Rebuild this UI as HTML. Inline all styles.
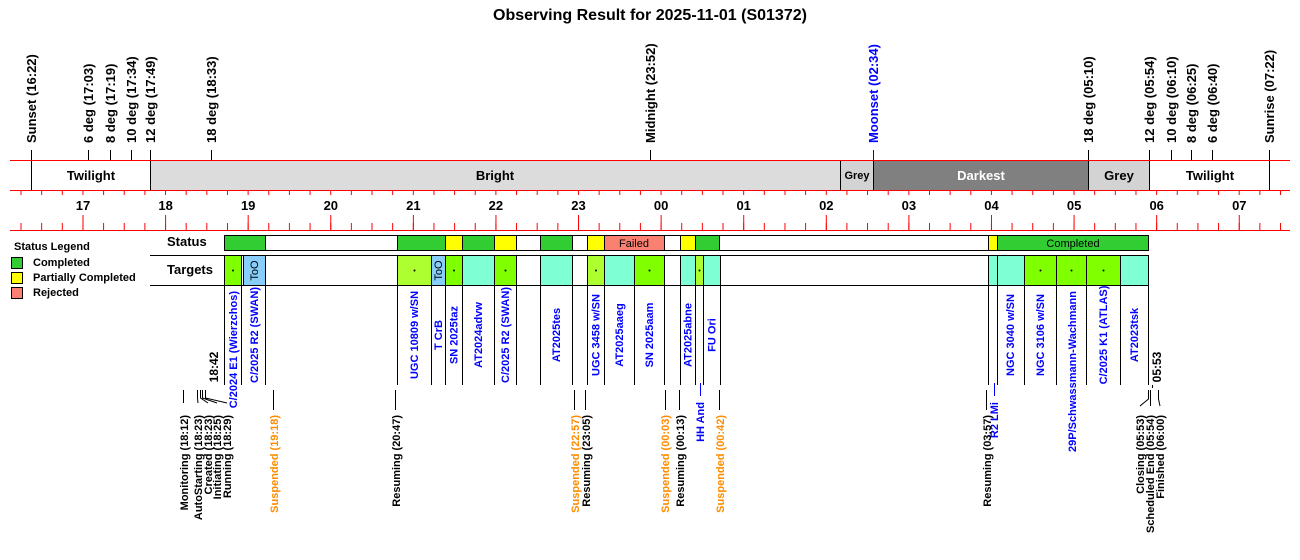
<!DOCTYPE html>
<html><head><meta charset="utf-8"><style>
html,body{margin:0;padding:0;background:#fff;}
svg{display:block;font-family:"Liberation Sans",Arial,sans-serif;font-weight:bold;}
</style></head><body>
<svg width="1300" height="560" viewBox="0 0 1300 560" xmlns="http://www.w3.org/2000/svg">
<defs>
<pattern id="pm" patternUnits="userSpaceOnUse" x="20.5" y="0" width="20.6475" height="600"><rect x="0" y="0" width="1" height="600" fill="#f00"/></pattern>
<pattern id="pM" patternUnits="userSpaceOnUse" x="82.5" y="0" width="82.59" height="600"><rect x="0" y="0" width="1" height="600" fill="#f00"/></pattern>
</defs>
<text x="650" y="20" font-size="16" text-anchor="middle">Observing Result for 2025-11-01 (S01372)</text>

<g font-size="13" stroke="none">
<g fill="#000">
<text transform="translate(36,143) rotate(-90)">Sunset (16:22)</text>
<text transform="translate(93,143) rotate(-90)">6 deg (17:03)</text>
<text transform="translate(115,143) rotate(-90)">8 deg (17:19)</text>
<text transform="translate(136,143) rotate(-90)">10 deg (17:34)</text>
<text transform="translate(155,143) rotate(-90)">12 deg (17:49)</text>
<text transform="translate(216,143) rotate(-90)">18 deg (18:33)</text>
<text transform="translate(655,143) rotate(-90)">Midnight (23:52)</text>
<text transform="translate(1093,143) rotate(-90)">18 deg (05:10)</text>
<text transform="translate(1154,143) rotate(-90)">12 deg (05:54)</text>
<text transform="translate(1176,143) rotate(-90)">10 deg (06:10)</text>
<text transform="translate(1196,143) rotate(-90)">8 deg (06:25)</text>
<text transform="translate(1217,143) rotate(-90)">6 deg (06:40)</text>
<text transform="translate(1274,143) rotate(-90)">Sunrise (07:22)</text>
</g>
<text transform="translate(878,143) rotate(-90)" fill="#0000ff">Moonset (02:34)</text>
</g>
<g stroke="#000" stroke-width="1">
<line x1="31.5" y1="150" x2="31.5" y2="160"/><line x1="88.5" y1="150" x2="88.5" y2="160"/>
<line x1="110.5" y1="150" x2="110.5" y2="160"/><line x1="131.5" y1="150" x2="131.5" y2="160"/>
<line x1="150.5" y1="150" x2="150.5" y2="160"/><line x1="211.5" y1="150" x2="211.5" y2="160"/>
<line x1="650.5" y1="150" x2="650.5" y2="160"/><line x1="1088.5" y1="150" x2="1088.5" y2="160"/>
<line x1="1149.5" y1="150" x2="1149.5" y2="160"/><line x1="1171.5" y1="150" x2="1171.5" y2="160"/>
<line x1="1191.5" y1="150" x2="1191.5" y2="160"/><line x1="1212.5" y1="150" x2="1212.5" y2="160"/>
<line x1="1269.5" y1="150" x2="1269.5" y2="160"/>
</g>
<line x1="873.5" y1="150" x2="873.5" y2="160" stroke="#0000ff"/>

<rect x="150.5" y="160.5" width="690" height="30" fill="#dcdcdc"/>
<rect x="840.5" y="160.5" width="33" height="30" fill="#d3d3d3"/>
<rect x="873.5" y="160.5" width="215" height="30" fill="#808080"/>
<rect x="1088.5" y="160.5" width="61" height="30" fill="#d3d3d3"/>
<g stroke="#000"><line x1="31.5" y1="160" x2="31.5" y2="190"/><line x1="150.5" y1="160" x2="150.5" y2="190"/>
<line x1="840.5" y1="160" x2="840.5" y2="190"/><line x1="873.5" y1="160" x2="873.5" y2="190"/>
<line x1="1088.5" y1="160" x2="1088.5" y2="190"/><line x1="1149.5" y1="160" x2="1149.5" y2="190"/>
<line x1="1269.5" y1="160" x2="1269.5" y2="190"/></g>
<g font-size="13" text-anchor="middle">
<text x="91" y="180">Twilight</text>
<text x="495" y="180">Bright</text>
<text x="857" y="179" font-size="11">Grey</text>
<text x="981" y="180" fill="#fff">Darkest</text>
<text x="1119" y="180">Grey</text>
<text x="1210" y="180">Twilight</text>
</g>
<line x1="10" y1="160.5" x2="1290" y2="160.5" stroke="#f00"/>
<line x1="10" y1="190.5" x2="1290" y2="190.5" stroke="#f00"/>
<line x1="10" y1="230.5" x2="1290" y2="230.5" stroke="#f00"/>
<rect x="20" y="190" width="1263" height="5" fill="url(#pm)"/>
<rect x="20" y="223" width="1263" height="8" fill="url(#pm)"/>
<rect x="80" y="215" width="1165" height="16" fill="url(#pM)"/>
<g font-size="13" text-anchor="middle">
<text x="83" y="210">17</text><text x="165.6" y="210">18</text><text x="248.2" y="210">19</text>
<text x="330.8" y="210">20</text><text x="413.4" y="210">21</text><text x="495.9" y="210">22</text>
<text x="578.5" y="210">23</text><text x="661.1" y="210">00</text><text x="743.7" y="210">01</text>
<text x="826.3" y="210">02</text><text x="908.9" y="210">03</text><text x="991.5" y="210">04</text>
<text x="1074.1" y="210">05</text><text x="1156.7" y="210">06</text><text x="1239.3" y="210">07</text>
</g>

<text x="14" y="250" font-size="11">Status Legend</text>
<rect x="11.5" y="257.5" width="11" height="11" fill="#32cd32" stroke="#000"/>
<rect x="11.5" y="272.5" width="11" height="11" fill="#ffff00" stroke="#000"/>
<rect x="11.5" y="287.5" width="11" height="11" fill="#fa8072" stroke="#000"/>
<g font-size="11"><text x="33" y="266">Completed</text><text x="33" y="281">Partially Completed</text><text x="33" y="296">Rejected</text></g>

<text x="167" y="246" font-size="13">Status</text>
<text x="167" y="274" font-size="13">Targets</text>
<line x1="150" y1="255.5" x2="1148" y2="255.5" stroke="#000"/>
<line x1="150" y1="285.5" x2="1148" y2="285.5" stroke="#000"/>

<g stroke="#000" stroke-width="1">
<rect x="224.5" y="235.5" width="924" height="15" fill="#fff"/>
<rect x="224.5" y="235.5" width="41" height="15" fill="#32cd32"/>
<rect x="397.5" y="235.5" width="48" height="15" fill="#32cd32"/>
<rect x="445.5" y="235.5" width="17" height="15" fill="#ffff00"/>
<rect x="462.5" y="235.5" width="32" height="15" fill="#32cd32"/>
<rect x="494.5" y="235.5" width="22" height="15" fill="#ffff00"/>
<rect x="540.5" y="235.5" width="32" height="15" fill="#32cd32"/>
<rect x="587.5" y="235.5" width="17" height="15" fill="#ffff00"/>
<rect x="604.5" y="235.5" width="60" height="15" fill="#fa8072"/>
<rect x="680.5" y="235.5" width="15" height="15" fill="#ffff00"/>
<rect x="695.5" y="235.5" width="24" height="15" fill="#32cd32"/>
<rect x="988.5" y="235.5" width="9" height="15" fill="#ffff00"/>
<rect x="997.5" y="235.5" width="151" height="15" fill="#32cd32"/>
</g>
<text x="634" y="247" font-size="11" font-weight="normal" text-anchor="middle">Failed</text>
<text x="1073" y="247" font-size="11" font-weight="normal" text-anchor="middle">Completed</text>

<g stroke="#000" stroke-width="1">
<rect x="224.5" y="255.5" width="17" height="30" fill="#7fff00"/>
<rect x="243.5" y="255.5" width="22" height="30" fill="#87cefa"/>
<rect x="397.5" y="255.5" width="34" height="30" fill="#adff2f"/>
<rect x="431.5" y="255.5" width="14" height="30" fill="#87cefa"/>
<rect x="445.5" y="255.5" width="17" height="30" fill="#7fff00"/>
<rect x="462.5" y="255.5" width="32" height="30" fill="#7fffd4"/>
<rect x="494.5" y="255.5" width="22" height="30" fill="#7fff00"/>
<rect x="540.5" y="255.5" width="32" height="30" fill="#7fffd4"/>
<rect x="587.5" y="255.5" width="17" height="30" fill="#adff2f"/>
<rect x="604.5" y="255.5" width="30" height="30" fill="#7fffd4"/>
<rect x="634.5" y="255.5" width="30" height="30" fill="#7fff00"/>
<rect x="680.5" y="255.5" width="15" height="30" fill="#7fffd4"/>
<rect x="695.5" y="255.5" width="8" height="30" fill="#adff2f"/>
<rect x="703.5" y="255.5" width="17" height="30" fill="#7fffd4"/>
<rect x="988.5" y="255.5" width="9" height="30" fill="#7fffd4"/>
<rect x="997.5" y="255.5" width="27" height="30" fill="#7fffd4"/>
<rect x="1024.5" y="255.5" width="32" height="30" fill="#7fff00"/>
<rect x="1056.5" y="255.5" width="30" height="30" fill="#7fff00"/>
<rect x="1086.5" y="255.5" width="34" height="30" fill="#7fff00"/>
<rect x="1120.5" y="255.5" width="28" height="30" fill="#7fffd4"/>
</g>
<g fill="#000">
<circle cx="233" cy="270.5" r="1"/><circle cx="414.5" cy="270.5" r="1"/><circle cx="454" cy="270.5" r="1"/>
<circle cx="505.5" cy="270.5" r="1"/><circle cx="596" cy="270.5" r="1"/><circle cx="649.5" cy="270.5" r="1"/>
<circle cx="699.5" cy="270.5" r="1"/><circle cx="1040.5" cy="270.5" r="1"/><circle cx="1071.5" cy="270.5" r="1"/>
<circle cx="1103.5" cy="270.5" r="1"/>
</g>
<g font-size="11" font-weight="normal" text-anchor="middle">
<text transform="translate(258,270.5) rotate(-90)">ToO</text>
<text transform="translate(442,270.5) rotate(-90)">ToO</text>
</g>

<g stroke="#000">
<path d="M224.5 285V385M241.5 285V385M265.5 285V385M397.5 285V385M431.5 285V385M445.5 285V385M462.5 285V385M494.5 285V385M516.5 285V385M540.5 285V385M572.5 285V385M587.5 285V385M604.5 285V385M634.5 285V385M664.5 285V385M680.5 285V385M695.5 285V385M703.5 285V385M720.5 285V385M988.5 285V385M997.5 285V385M1024.5 285V385M1056.5 285V385M1086.5 285V385M1120.5 285V385M1148.5 285V385"/>
</g>

<g font-size="11" fill="#0000ff">
<g text-anchor="end">
<text transform="translate(237,291) rotate(-90)">C/2024 E1 (Wierzchos)</text>
<text transform="translate(1076,291) rotate(-90)">29P/Schwassmann-Wachmann</text>
</g>
<g text-anchor="middle">
<text transform="translate(258,335) rotate(-90)">C/2025 R2 (SWAN)</text>
<text transform="translate(418,335) rotate(-90)">UGC 10809 w/SN</text>
<text transform="translate(442,335) rotate(-90)">T CrB</text>
<text transform="translate(457.5,335) rotate(-90)">SN 2025taz</text>
<text transform="translate(482,335) rotate(-90)">AT2024advw</text>
<text transform="translate(509,335) rotate(-90)">C/2025 R2 (SWAN)</text>
<text transform="translate(560,335) rotate(-90)">AT2025tes</text>
<text transform="translate(599.5,335) rotate(-90)">UGC 3458 w/SN</text>
<text transform="translate(623,335) rotate(-90)">AT2025aaeg</text>
<text transform="translate(653,335) rotate(-90)">SN 2025aam</text>
<text transform="translate(691.5,335) rotate(-90)">AT2025abne</text>
<text transform="translate(715.5,335) rotate(-90)">FU Ori</text>
<text transform="translate(1014,335) rotate(-90)">NGC 3040 w/SN</text>
<text transform="translate(1044,335) rotate(-90)">NGC 3106 w/SN</text>
<text transform="translate(1107,335) rotate(-90)">C/2025 K1 (ATLAS)</text>
<text transform="translate(1138,335) rotate(-90)">AT2023tsk</text>
</g>
<g text-anchor="end">
<text transform="translate(704,402) rotate(-90)">HH And</text>
<text transform="translate(998,402) rotate(-90)">R2 LMi</text>
</g>
</g>
<g stroke="#0000ff"><line x1="700.5" y1="383" x2="700.5" y2="396"/><line x1="994.5" y1="383" x2="994.5" y2="396"/></g>

<g font-size="12" text-anchor="middle">
<text transform="translate(218,367) rotate(-90)">18:42</text>
<text transform="translate(1161,367) rotate(-90)">05:53</text>
</g>
<line x1="1152.5" y1="385" x2="1152.5" y2="388" stroke="#000"/>

<g stroke="#000" fill="none">
<path d="M183.5 390V403"/>
<path d="M197.5 390V398L198 403M200.5 390V398L208 403M202.5 390V398L217 403M205.5 390V398L227 403"/>
<path d="M273.5 390V410M395.5 390V410M574.5 390V410M585.5 390V410M665.5 390V410M679.5 390V410M719.5 390V410M986.5 390V410"/>
<path d="M1148.5 390V399L1140 406M1150.5 390V406M1158.5 390V399L1160 406"/>
</g>
<g font-size="11" text-anchor="end">
<g fill="#000">
<text transform="translate(188,415) rotate(-90)">Monitoring (18:12)</text>
<text transform="translate(202,415) rotate(-90)">AutoStarting (18:23)</text>
<text transform="translate(212,415) rotate(-90)">Created (18:23)</text>
<text transform="translate(221,415) rotate(-90)">Initiating (18:25)</text>
<text transform="translate(231,415) rotate(-90)">Running (18:29)</text>
<text transform="translate(400,415) rotate(-90)">Resuming (20:47)</text>
<text transform="translate(590,415) rotate(-90)">Resuming (23:05)</text>
<text transform="translate(684,415) rotate(-90)">Resuming (00:13)</text>
<text transform="translate(991,415) rotate(-90)">Resuming (03:57)</text>
<text transform="translate(1144,415) rotate(-90)">Closing (05:53)</text>
<text transform="translate(1154,415) rotate(-90)">Scheduled End (05:54)</text>
<text transform="translate(1164,415) rotate(-90)">Finished (06:00)</text>
</g>
<g fill="#ff8c00">
<text transform="translate(278,415) rotate(-90)">Suspended (19:18)</text>
<text transform="translate(579,415) rotate(-90)">Suspended (22:57)</text>
<text transform="translate(669,415) rotate(-90)">Suspended (00:03)</text>
<text transform="translate(724,415) rotate(-90)">Suspended (00:42)</text>
</g>
</g>
</svg>
</body></html>
